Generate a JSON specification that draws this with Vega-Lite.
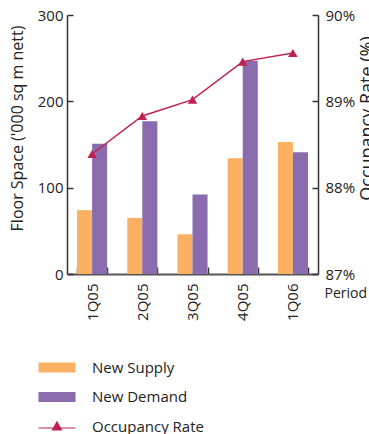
{
  "$schema": "https://vega.github.io/schema/vega-lite/v6.json",
  "width": 251,
  "height": 259,
  "autosize": {"type": "none"},
  "padding": {"left": 67, "top": 15, "right": 51, "bottom": 160},
  "config": {
    "font": "Open Sans",
    "view": {"stroke": null},
    "axis": {
      "grid": false,
      "labelFont": "Open Sans",
      "titleFont": "Open Sans",
      "labelFontSize": 15,
      "titleFontSize": 15,
      "titleFontWeight": "normal",
      "labelColor": "#222",
      "titleColor": "#222",
      "domainColor": "#333",
      "tickColor": "#333",
      "domainWidth": 1.5,
      "tickWidth": 1.5
    }
  },
  "datasets": {
    "bars": [
      {"period": "1Q05", "series": "New Supply", "value": 74},
      {"period": "1Q05", "series": "New Demand", "value": 151},
      {"period": "2Q05", "series": "New Supply", "value": 65},
      {"period": "2Q05", "series": "New Demand", "value": 177},
      {"period": "3Q05", "series": "New Supply", "value": 46},
      {"period": "3Q05", "series": "New Demand", "value": 92},
      {"period": "4Q05", "series": "New Supply", "value": 134},
      {"period": "4Q05", "series": "New Demand", "value": 247},
      {"period": "1Q06", "series": "New Supply", "value": 153},
      {"period": "1Q06", "series": "New Demand", "value": 141}
    ],
    "occ": [
      {"period": "1Q05", "series": "Occupancy Rate", "rate": 88.39},
      {"period": "2Q05", "series": "Occupancy Rate", "rate": 88.83},
      {"period": "3Q05", "series": "Occupancy Rate", "rate": 89.02},
      {"period": "4Q05", "series": "Occupancy Rate", "rate": 89.46},
      {"period": "1Q06", "series": "Occupancy Rate", "rate": 89.56}
    ]
  },
  "layer": [
    {
      "data": {"name": "bars"},
      "mark": {"type": "bar"},
      "encoding": {
        "x": {
          "field": "period",
          "type": "nominal",
          "sort": ["1Q05", "2Q05", "3Q05", "4Q05", "1Q06"],
          "scale": {"paddingInner": 0.4, "paddingOuter": 0.2},
          "axis": {
            "labelAngle": 270,
            "tickBand": "extent",
            "tickSize": -7,
            "labelPadding": 16,
            "title": "Period",
            "titleFontSize": 14,
            "titleAnchor": "end",
            "titleAlign": "left",
            "titleBaseline": "alphabetic",
            "titleX": 257,
            "titleY": 23,
            "domainColor": "#555",
            "domainWidth": 2
          }
        },
        "xOffset": {"field": "series", "type": "nominal", "sort": ["New Supply", "New Demand"]},
        "y": {
          "field": "value",
          "type": "quantitative",
          "scale": {"domain": [0, 300]},
          "axis": {
            "orient": "left",
            "values": [0, 100, 200, 300],
            "tickSize": -6,
            "labelPadding": 10,
            "title": "Floor Space ('000 sq m nett)",
            "titleFontSize": 16,
            "titleAngle": 270,
            "titleBaseline": "bottom",
            "titleAlign": "center",
            "titleX": -42,
            "titleY": 113
          }
        },
        "color": {
          "field": "series",
          "type": "nominal",
          "scale": {
            "domain": ["New Supply", "New Demand", "Occupancy Rate"],
            "range": ["#fbb062", "#8a6bae", "#bf2150"]
          },
          "legend": {
            "title": null,
            "orient": "none",
            "legendX": -17.5,
            "legendY": 345,
            "direction": "vertical",
            "padding": 0,
            "symbolSize": 400,
            "rowPadding": 13.5,
            "labelOffset": 27.5,
            "labelFontSize": 15,
            "labelFont": "Open Sans",
            "labelColor": "#222",
            "encode": {
              "symbols": {
                "update": {
                  "shape": {"signal": "datum.value === 'Occupancy Rate' ? 'M-1.85,0.15H1.85M0,-0.45L0.45,0.35L-0.45,0.35Z' : 'M-1.85,-0.5H1.85V0.5H-1.85Z'"},
                  "fill": {"scale": "color", "field": "value"},
                  "stroke": {"scale": "color", "field": "value"},
                  "strokeWidth": {"signal": "datum.value === 'Occupancy Rate' ? 1.2 : 0"},
                  "fillOpacity": {"value": 1},
                  "opacity": {"value": 1}
                }
              }
            }
          }
        }
      }
    },
    {
      "data": {"name": "occ"},
      "mark": {
        "type": "line",
        "strokeWidth": 1.5,
        "point": {"shape": "triangle-up", "size": 90, "filled": true, "opacity": 1}
      },
      "encoding": {
        "x": {"field": "period", "type": "nominal", "sort": ["1Q05", "2Q05", "3Q05", "4Q05", "1Q06"]},
        "y": {
          "field": "rate",
          "type": "quantitative",
          "scale": {"domain": [87, 90], "zero": false},
          "axis": {
            "orient": "right",
            "values": [87, 88, 89, 90],
            "labelExpr": "datum.value + '%'",
            "tickSize": -6,
            "labelPadding": 13,
            "title": "Occupancy Rate (%)",
            "titleFontSize": 18,
            "titleAngle": 270,
            "titleBaseline": "top",
            "titleAlign": "center",
            "titleX": 40,
            "titleY": 103
          }
        },
        "color": {"field": "series", "type": "nominal"}
      }
    }
  ],
  "resolve": {"scale": {"y": "independent"}}
}
